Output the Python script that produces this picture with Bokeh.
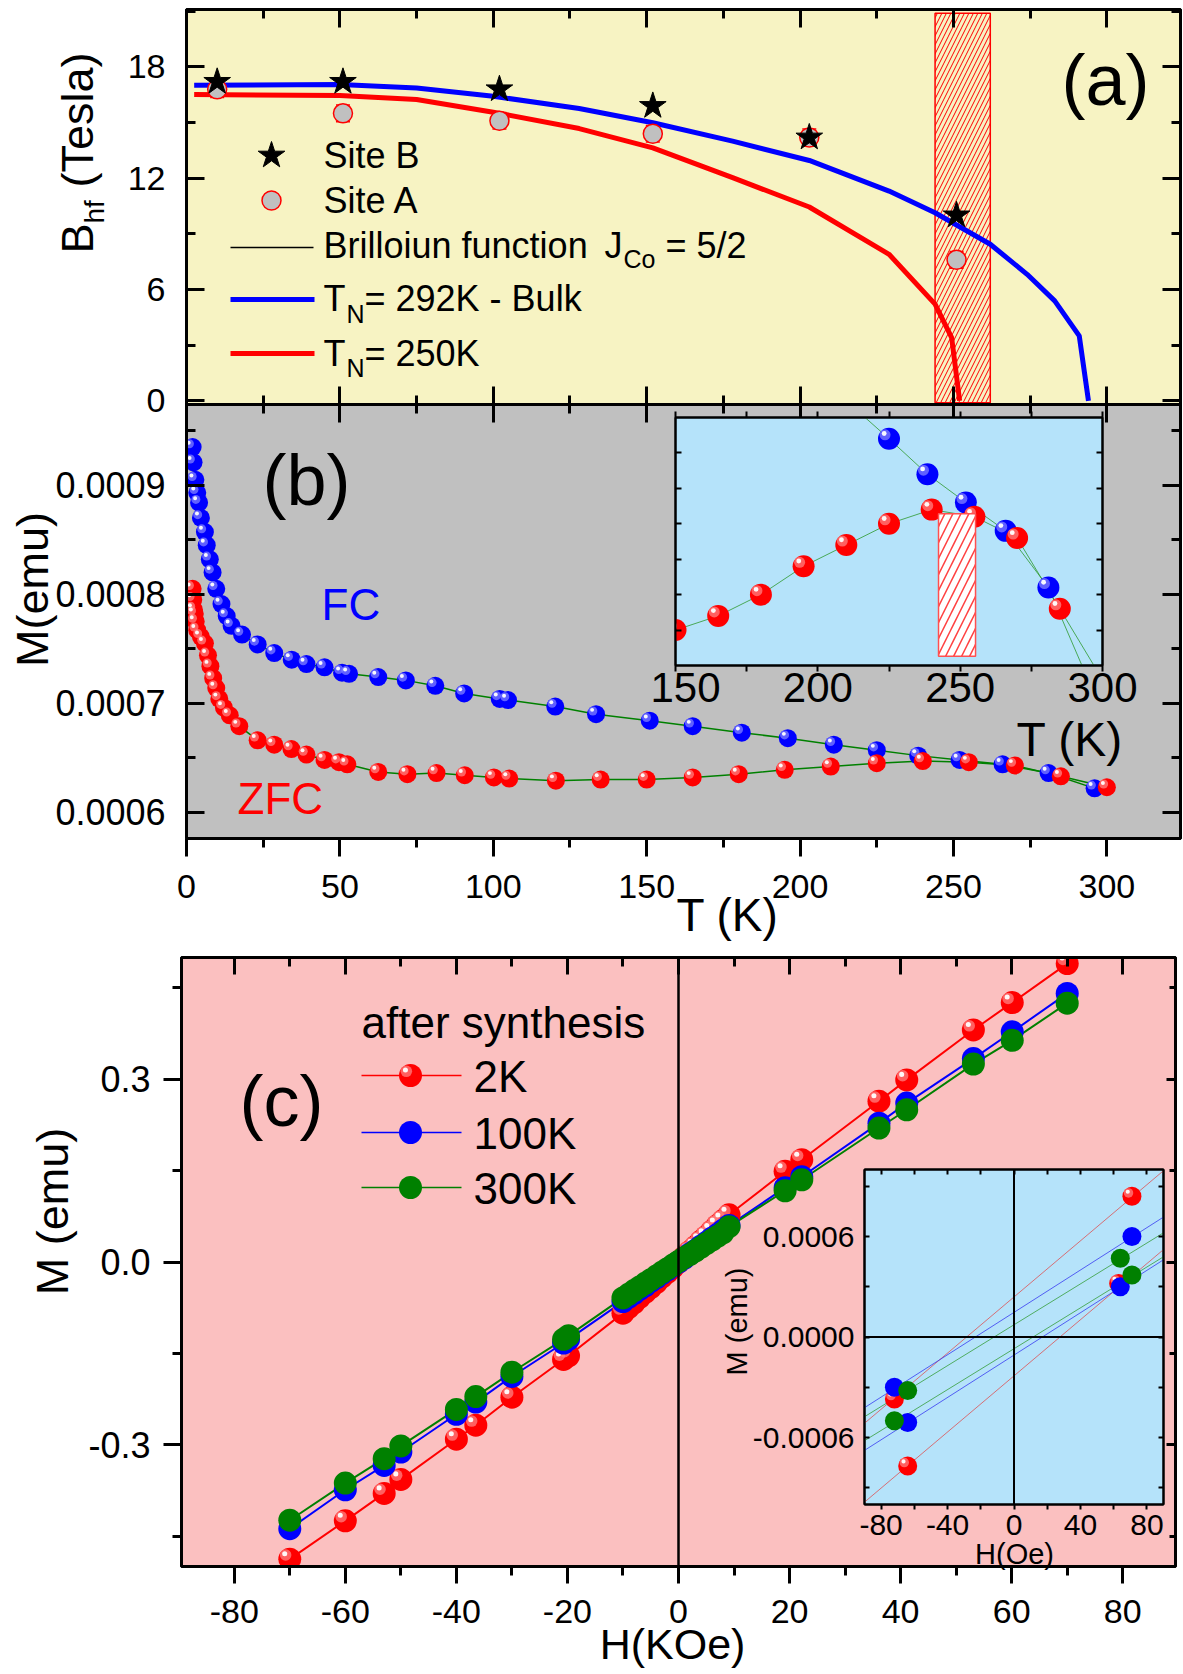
from bokeh.plotting import figure
from bokeh.models import (Range1d, LinearAxis, Label, Whisker, TeeHead, ColumnDataSource,
                          FixedTicker, Span, PrintfTickFormatter)
from bokeh.embed import file_html
from bokeh.resources import INLINE

FONT = "Liberation Sans"
RED, BLUE, GREEN = "#FF0000", "#0000FF", "#008000"

# ---------------- (a) hyperfine field data ----------------
T_site = [10, 51, 102, 152, 203, 251]
B_siteB = [17.2, 17.2, 16.8, 15.9, 14.2, 10.0]
B_siteA = [16.8, 15.5, 15.1, 14.4, 14.2, 7.6]
B_siteA_err = [0.45, 0.45, 0.45, 0.45, 0.45, 0.45]
T_fit_bulk = [2.5, 50, 75, 100, 128, 152, 178, 203, 229, 244, 262, 274, 283, 291, 294]
B_fit_bulk = [17.02, 17.05, 16.87, 16.42, 15.76, 14.99, 14.0, 12.96, 11.31, 10.14, 8.44, 6.82, 5.39, 3.5, 0.0]
T_fit_250 = [2.5, 50, 75, 100, 128, 152, 178, 203, 229, 244, 249.4, 252]
B_fit_250 = [16.52, 16.46, 16.25, 15.56, 14.68, 13.64, 12.03, 10.45, 7.9, 5.21, 3.41, 0.0]
TN_band = [244, 262]
TN_band_B = [-0.1, 20.9]

# ---------------- (b) M(T) data ----------------
T_FC = [2.0, 2.3, 2.9, 3.5, 4.1, 4.7, 6.0, 6.6, 7.6, 8.5, 9.7, 11.4, 13.1, 14.7, 18.1, 23.2, 28.6, 34.3,
        39.1, 45.0, 50.7, 53.0, 62.5, 71.5, 81.1, 90.5, 102.1, 104.8, 120.2, 133.5, 151, 165, 181, 196,
        211, 225, 238.5, 252, 266, 281, 296]
M_FC = [0.000935, 0.000921, 0.000905, 0.000893, 0.000884, 0.00087, 0.000857, 0.000845, 0.000832, 0.00082,
        0.000805, 0.000791, 0.00078, 0.000771, 0.000763, 0.000754, 0.000746, 0.00074, 0.000736, 0.000733,
        0.000728, 0.000727, 0.000724, 0.000721, 0.000716, 0.000709, 0.000704, 0.000703, 0.000697, 0.00069,
        0.000684, 0.000679, 0.000673, 0.000668, 0.000662, 0.000657, 0.000652, 0.000648, 0.000644, 0.000636,
        0.000622]
T_ZFC = [2.0, 2.2, 2.4, 2.7, 3.0, 3.5, 4.7, 6.0, 7.0, 7.8, 8.7, 9.7, 10.7, 12.2, 14.1, 17.2, 23.2, 28.6,
         34.2, 39.1, 45.0, 49.7, 52.4, 62.5, 72.0, 81.5, 90.7, 100.2, 105.2, 120.4, 135, 150, 165, 180,
         195, 210, 225, 240, 255, 270, 285, 300]
M_ZFC = [0.000805, 0.000795, 0.000786, 0.000782, 0.000775, 0.000767, 0.000761, 0.000755, 0.000744, 0.000734,
         0.000723, 0.000714, 0.000704, 0.000696, 0.000689, 0.000679, 0.000666, 0.000662, 0.000658, 0.000653,
         0.000648, 0.000646, 0.000644, 0.000637, 0.000635, 0.000636, 0.000634, 0.000632, 0.000631, 0.000629,
         0.00063, 0.00063, 0.000632, 0.000635, 0.000639, 0.000642, 0.000645, 0.000647, 0.000646, 0.000643,
         0.000633, 0.000623]
inset_T_band = [242.4, 255.4]
inset_M_band = [0.0006263, 0.0006464]

# ---------------- (c) M(H) data ----------------
H_2K = [-70, -60, -53, -50, -40, -36.5, -30, -20.7, -19.8, -10, -9, -8, -7, -6, -5, -4, -3, -2, -1, 0,
        1, 2, 3, 4, 5, 6, 7, 8, 9.1, 19.2, 22.2, 36.1, 41.1, 53.1, 60.1, 70]
M_2K = [-0.488, -0.425, -0.380, -0.357, -0.291, -0.268, -0.222, -0.160, -0.154, -0.084, -0.075, -0.067,
        -0.058, -0.050, -0.042, -0.034, -0.025, -0.017, -0.009, 0.0, 0.008, 0.017, 0.025, 0.034, 0.042,
        0.051, 0.060, 0.068, 0.0775, 0.149, 0.168, 0.264, 0.299, 0.381, 0.426, 0.490]
H_100K = [-70, -60, -53, -50, -40, -36.5, -30, -20.7, -19.8, -10, -9, -8, -7, -6, -5, -4, -3, -2, -1, 0,
          1, 2, 3, 4, 5, 6, 7, 8, 9.1, 19.2, 22.2, 36.1, 41.1, 53.1, 60.1, 70]
M_100K = [-0.438, -0.374, -0.334, -0.312, -0.250, -0.230, -0.188, -0.133, -0.127, -0.065, -0.058, -0.052,
          -0.045, -0.039, -0.032, -0.026, -0.019, -0.013, -0.006, 0.0, 0.006, 0.013, 0.019, 0.026, 0.032,
          0.039, 0.045, 0.052, 0.060, 0.122, 0.140, 0.228, 0.261, 0.334, 0.378, 0.441]
H_300K = [-70, -60, -53, -50, -40, -36.5, -30, -20.7, -19.8, -10, -9, -8, -7, -6, -5, -4, -3, -2, -1, 0,
          1, 2, 3, 4, 5, 6, 7, 8, 9.1, 19.2, 22.2, 36.1, 41.1, 53.1, 60.1, 70]
M_300K = [-0.424, -0.363, -0.323, -0.302, -0.242, -0.221, -0.181, -0.127, -0.121, -0.059, -0.053, -0.047,
          -0.041, -0.035, -0.029, -0.023, -0.017, -0.011, -0.005, 0.001, 0.007, 0.012, 0.018, 0.024, 0.030,
          0.036, 0.042, 0.048, 0.058, 0.117, 0.135, 0.220, 0.250, 0.325, 0.364, 0.425]

# inset (c): low-field points (Oe) and branch lines
Hin_2K = [71, 63, -72, -64]
Min_2K = [0.00084, 0.00032, -0.00037, -0.00077]
Hin_100K = [71, 64, -72, -64]
Min_100K = [0.0006, 0.0003, -0.0003, -0.00051]
Hin_300K = [64, 71, -64, -72]
Min_300K = [0.00047, 0.00037, -0.00032, -0.0005]
Hin_line = [-90, 90]
Lin_2K_up = [-0.000515, 0.000993]
Lin_2K_dn = [-0.000986, 0.000522]
Lin_100K_up = [-0.000422, 0.000716]
Lin_100K_dn = [-0.000677, 0.000461]
Lin_300K_up = [-0.000476, 0.000622]
Lin_300K_dn = [-0.000619, 0.000479]

# ---------------- layout helpers (page px) ----------------


def make_fig(box, frame, xr, yr, bg, border_alpha=1.0, outline_w=3, z=1):
    bl, bt, bw, bh = box
    fl, ft, fr, fb = frame
    p = figure(width=bw, height=bh, x_range=Range1d(*xr), y_range=Range1d(*yr),
               output_backend="svg", toolbar_location=None,
               x_axis_location=None, y_axis_location=None,
               min_border_left=fl - bl, min_border_top=ft - bt,
               min_border_right=(bl + bw) - fr, min_border_bottom=(bt + bh) - fb)
    p.grid.visible = False
    p.background_fill_color = bg
    p.border_fill_color = "white"
    p.border_fill_alpha = border_alpha
    p.outline_line_color = "black"
    p.outline_line_width = outline_w
    p.styles = {"position": "absolute", "left": f"{bl}px", "top": f"{bt}px", "z-index": str(z)}
    return p


def mapper(frame, xr, yr):
    fl, ft, fr, fb = frame
    X = lambda px: xr[0] + (px - fl) / (fr - fl) * (xr[1] - xr[0])
    Y = lambda py: yr[1] - (py - ft) / (fb - ft) * (yr[1] - yr[0])
    kx = (fr - fl) / (xr[1] - xr[0])
    ky = (fb - ft) / (yr[1] - yr[0])
    return X, Y, kx, ky


def add_axis(p, side, ticks, minor, fmt="%d", size=34, tin=0, tout=0,
             min_in=0, min_out=0, standoff=10, lw=3):
    ax = LinearAxis(ticker=FixedTicker(ticks=ticks, minor_ticks=minor))
    ax.formatter = PrintfTickFormatter(format=fmt)
    ax.axis_line_width = lw
    ax.axis_line_color = "black"
    ax.major_tick_line_width = lw
    ax.minor_tick_line_width = lw
    ax.major_tick_line_color = "black"
    ax.minor_tick_line_color = "black"
    ax.major_tick_in = tin
    ax.major_tick_out = tout
    ax.minor_tick_in = min_in
    ax.minor_tick_out = min_out
    ax.major_label_text_font = FONT
    ax.major_label_text_color = "black"
    ax.major_label_text_font_size = f"{size}px"
    ax.major_label_standoff = standoff
    p.add_layout(ax, side)
    return ax


def add_ticks(p, side, groups, lw=3):
    """Unlabelled frame ticks; groups = list of (tick positions, length, inward)."""
    first = True
    for ticks, length, inward in groups:
        ax = LinearAxis(ticker=FixedTicker(ticks=[], minor_ticks=ticks))
        ax.axis_line_color = "black" if first else None
        ax.axis_line_width = lw
        ax.major_tick_line_color = None
        ax.minor_tick_line_color = "black"
        ax.minor_tick_line_width = lw
        ax.minor_tick_in = length if inward else 0
        ax.minor_tick_out = 0 if inward else length
        ax.major_label_standoff = 0
        p.add_layout(ax, side)
        first = False


def balls(p, xs, ys, color, hl, d, kx, ky, plain=False):
    p.scatter(xs, ys, size=d, marker="circle", fill_color=color, line_color=None)
    if plain:
        return
    dx, dy = -0.18 * d / kx, 0.18 * d / ky
    p.scatter([x + dx for x in xs], [y + dy for y in ys], size=0.5 * d, marker="circle",
              fill_color=hl, fill_alpha=0.75, line_color=None)
    dx2, dy2 = -0.22 * d / kx, 0.24 * d / ky
    p.scatter([x + dx2 for x in xs], [y + dy2 for y in ys], size=0.22 * d, marker="circle",
              fill_color="white", fill_alpha=0.95, line_color=None)


HALF_PI = 1.5707963267948966
T_ticks = [0, 50, 100, 150, 200, 250, 300]
T_minor = [25, 75, 125, 175, 225, 275, 325]

# ================= panel (a) =================
A_box, A_frame = (0, 0, 1183, 425), (186, 9, 1180, 404)
A_xr, A_yr = (0, 324), (-0.2, 21.1)
pa = make_fig(A_box, A_frame, A_xr, A_yr, "#F7F3C3", border_alpha=0.0, z=2)
XA, YA, kxa, kya = mapper(A_frame, A_xr, A_yr)
add_axis(pa, "left", [0, 6, 12, 18], [3, 9, 15, 21], fmt="%d", tin=18, min_in=9, standoff=21)
add_ticks(pa, "right", [([0, 6, 12, 18], 18, True), ([3, 9, 15, 21], 9, True)])
add_ticks(pa, "below", [(T_ticks, 18, True), (T_minor, 9, True)])
add_ticks(pa, "above", [(T_ticks, 18, True), (T_minor, 9, True)])

pa.quad(left=[TN_band[0]], right=[TN_band[1]], bottom=[TN_band_B[0]], top=[TN_band_B[1]],
        fill_alpha=0, hatch_pattern="/", hatch_color=RED, hatch_scale=9, hatch_weight=1,
        line_color=RED, line_width=1.5)
pa.line(T_fit_bulk, B_fit_bulk, line_color=BLUE, line_width=5)
pa.line(T_fit_250, B_fit_250, line_color=RED, line_width=5)
srcA = ColumnDataSource(dict(x=T_site, up=[b + e for b, e in zip(B_siteA, B_siteA_err)],
                             lo=[b - e for b, e in zip(B_siteA, B_siteA_err)]))
pa.add_layout(Whisker(base="x", upper="up", lower="lo", source=srcA, level="underlay",
                      line_color=RED, line_width=1.5,
                      upper_head=TeeHead(size=14, line_color=RED, line_width=1.5),
                      lower_head=TeeHead(size=14, line_color=RED, line_width=1.5)))
pa.scatter(T_site, B_siteA, marker="circle", size=19, fill_color="#C0C0C0", line_color=RED, line_width=1.5)
pa.scatter(T_site, B_siteB, marker="star", size=28, fill_color="black", line_color="black")

# legend symbols (a)
pa.scatter([XA(271)], [YA(155)], marker="star", size=28, fill_color="black", line_color="black")
pa.scatter([XA(271)], [YA(200)], marker="circle", size=19, fill_color="#C0C0C0", line_color=RED, line_width=1.5)
pa.line([XA(230), XA(313)], [YA(247), YA(247)], line_color="black", line_width=1.5)
pa.line([XA(230), XA(314)], [YA(299), YA(299)], line_color=BLUE, line_width=5)
pa.line([XA(230), XA(314)], [YA(353), YA(353)], line_color=RED, line_width=5)

# ================= panel (b) =================
B_box, B_frame = (0, 404, 1183, 540), (186, 404, 1180, 838)
B_xr, B_yr = (0, 324), (0.000576, 0.000974)
pb = make_fig(B_box, B_frame, B_xr, B_yr, "#C0C0C0", z=1)
XB, YB, kxb, kyb = mapper(B_frame, B_xr, B_yr)
M_ticks = [0.0006, 0.0007, 0.0008, 0.0009]
M_minor = [0.00065, 0.00075, 0.00085, 0.00095]
add_axis(pb, "left", M_ticks, M_minor, fmt="%.4f", size=36, tin=18, min_in=9, standoff=21)
add_ticks(pb, "right", [(M_ticks, 18, True), (M_minor, 9, True)])
add_axis(pb, "below", T_ticks, T_minor, fmt="%d", tout=18, min_out=9, standoff=18)
add_ticks(pb, "above", [(T_ticks, 18, True), (T_minor, 9, True)])

pb.line(T_FC, M_FC, line_color=GREEN, line_width=1.5)
pb.line(T_ZFC, M_ZFC, line_color=GREEN, line_width=1.5)
balls(pb, T_FC, M_FC, BLUE, "#8080FF", 18, kxb, kyb)
balls(pb, T_ZFC, M_ZFC, RED, "#FF8080", 18, kxb, kyb)

# ================= inset (b) =================
IB_box, IB_frame = (650, 405, 500, 380), (675, 417, 1102, 665)
IB_xr, IB_yr = (150, 300), (0.000625, 0.00066)
pib = make_fig(IB_box, IB_frame, IB_xr, IB_yr, "#B5E3FA", border_alpha=0.0, outline_w=2, z=5)
XIB, YIB, kxib, kyib = mapper(IB_frame, IB_xr, IB_yr)
add_axis(pib, "below", [150, 200, 250, 300], [175, 225, 275], fmt="%d", size=42, tout=6, min_out=6,
         standoff=1, lw=2)
add_ticks(pib, "above", [([150, 175, 200, 225, 250, 275, 300], 6, False)], lw=2)
add_ticks(pib, "left", [([0.00063, 0.000635, 0.00064, 0.000645, 0.00065, 0.000655], 6, True)], lw=2)
add_ticks(pib, "right", [([0.00063, 0.000635, 0.00064, 0.000645, 0.00065, 0.000655], 6, True)], lw=2)
pib.line(T_FC, M_FC, line_color="#2E9A2E", line_width=1, line_alpha=0.8)
pib.line(T_ZFC, M_ZFC, line_color="#2E9A2E", line_width=1, line_alpha=0.8)
balls(pib, T_FC, M_FC, BLUE, "#8080FF", 22, kxib, kyib)
balls(pib, T_ZFC, M_ZFC, RED, "#FF8080", 22, kxib, kyib)
pib.quad(left=[inset_T_band[0]], right=[inset_T_band[1]], bottom=[inset_M_band[0]], top=[inset_M_band[1]],
         fill_color="white", hatch_pattern="/", hatch_color="#FF4040", hatch_scale=16, hatch_weight=1.5,
         line_color="#FF5050", line_width=1.5)

# ================= panel (c) =================
C_box, C_frame = (0, 944, 1183, 728), (181, 957, 1175, 1566)
C_xr, C_yr = (-89.5, 89.5), (-0.5, 0.5)
pc = make_fig(C_box, C_frame, C_xr, C_yr, "#FBC0C0", z=1)
XC, YC, kxc, kyc = mapper(C_frame, C_xr, C_yr)
H_ticks = [-80, -60, -40, -20, 0, 20, 40, 60, 80]
H_minor = [-90, -70, -50, -30, -10, 10, 30, 50, 70, 90]
Mc_ticks = [-0.3, 0.0, 0.3]
Mc_minor = [-0.45, -0.15, 0.15, 0.45]
add_axis(pc, "left", Mc_ticks, Mc_minor, fmt="%.1f", size=36, tout=18, min_out=9, standoff=13)
add_ticks(pc, "right", [(Mc_ticks, 9, True), (Mc_minor, 6, True)])
add_axis(pc, "below", H_ticks, H_minor, fmt="%d", tout=17, min_out=9, standoff=16)
add_ticks(pc, "above", [(H_ticks, 17, True), (H_minor, 9, True)])
pc.add_layout(Span(location=0, dimension="height", line_color="black", line_width=2.5))

pc.line(H_2K, M_2K, line_color=RED, line_width=2)
pc.line(H_100K, M_100K, line_color=BLUE, line_width=2)
pc.line(H_300K, M_300K, line_color=GREEN, line_width=2)
balls(pc, H_2K, M_2K, RED, "#FF8080", 23, kxc, kyc)
balls(pc, H_100K, M_100K, BLUE, None, 23, kxc, kyc, plain=True)
balls(pc, H_300K, M_300K, GREEN, None, 23, kxc, kyc, plain=True)

# legend symbols (c)
LEG_C = [(1075, RED, "2K"), (1132, BLUE, "100K"), (1187, GREEN, "300K")]
for yy, col, lab in LEG_C:
    pc.line([XC(361), XC(461)], [YC(yy), YC(yy)], line_color=col, line_width=1.5)
    balls(pc, [XC(410)], [YC(yy)], col, "#FF8080", 23, kxc, kyc, plain=(col != RED))

# ================= inset (c) =================
IC_box, IC_frame = (705, 1155, 470, 420), (864, 1169, 1163, 1504)
IC_xr, IC_yr = (-90, 90), (-0.001, 0.001)
pic = make_fig(IC_box, IC_frame, IC_xr, IC_yr, "#B5E3FA", border_alpha=0.0, outline_w=2, z=5)
XIC, YIC, kxic, kyic = mapper(IC_frame, IC_xr, IC_yr)
add_axis(pic, "below", [-80, -40, 0, 40, 80], [-60, -20, 20, 60], fmt="%d", size=30, tout=5, min_out=5,
         standoff=5, lw=2)
add_ticks(pic, "above", [([-80, -60, -40, -20, 0, 20, 40, 60, 80], 5, True)], lw=2)
add_axis(pic, "left", [-0.0006, 0.0, 0.0006], [-0.0009, -0.0003, 0.0003, 0.0009], fmt="%.4f", size=30,
         tin=5, min_in=5, standoff=10, lw=2)
add_ticks(pic, "right", [([-0.0009, -0.0006, -0.0003, 0.0, 0.0003, 0.0006, 0.0009], 5, True)], lw=2)
pic.add_layout(Span(location=0, dimension="height", line_color="black", line_width=2))
pic.add_layout(Span(location=0, dimension="width", line_color="black", line_width=2))
for ys, col in [(Lin_2K_up, "#E04848"), (Lin_2K_dn, "#E04848"), (Lin_100K_up, "#3030F0"),
                (Lin_100K_dn, "#3030F0"), (Lin_300K_up, "#2E9A2E"), (Lin_300K_dn, "#2E9A2E")]:
    pic.line(Hin_line, ys, line_color=col, line_width=1, line_alpha=0.75)
balls(pic, Hin_2K, Min_2K, RED, "#FF8080", 19, kxic, kyic)
balls(pic, Hin_100K, Min_100K, BLUE, None, 19, kxic, kyic, plain=True)
balls(pic, Hin_300K, Min_300K, GREEN, None, 19, kxic, kyic, plain=True)

# ================= text layer (page px) =================
po = figure(width=1180, height=1672, x_range=Range1d(0, 1180), y_range=Range1d(1672, 0),
            output_backend="svg", toolbar_location=None, x_axis_location=None, y_axis_location=None,
            min_border_left=0, min_border_right=0, min_border_top=0, min_border_bottom=0)
po.grid.visible = False
po.outline_line_color = None
po.background_fill_alpha = 0.0
po.border_fill_alpha = 0.0
po.styles = {"position": "absolute", "left": "0px", "top": "0px", "z-index": "10", "pointer-events": "none"}


def t(x, y, text, size, color="black", align="left", angle=0.0):
    # (x, y) is the intended baseline anchor in page px; compensate the renderer's baseline offset
    if angle == 0.0:
        y = y - 0.33 * size
    else:
        x = x - 0.33 * size
    po.add_layout(Label(x=x, y=y, text=text, text_font=FONT, text_font_size=f"{size}px",
                        text_color=color, text_align=align, text_baseline="alphabetic", angle=angle))


# (a)
t(323, 167, "Site B", 36)
t(323, 212, "Site A", 36)
t(323, 257, "Brilloiun function", 36)
t(604, 257, "J", 36)
t(623, 267, "Co", 25)
t(665, 257, "= 5/2", 36)
t(323, 310, "T", 36)
t(346, 322, "N", 25)
t(364, 310, "= 292K - Bulk", 36)
t(323, 365, "T", 36)
t(346, 376, "N", 25)
t(364, 365, "= 250K", 36)
t(1061, 103, "(a)", 72)
t(92, 253, "B", 45, angle=HALF_PI)
t(103, 223, "hf", 28, angle=HALF_PI)
t(92, 187, "(Tesla)", 45, angle=HALF_PI)
# (b)
t(262, 503, "(b)", 72)
t(321, 619, "FC", 44, color=BLUE)
t(237, 813, "ZFC", 44, color=RED)
t(47, 589, "M(emu)", 45, align="center", angle=HALF_PI)
t(676, 930, "T (K)", 46)
t(1016, 755, "T (K)", 48)
# (c)
t(361, 1037, "after synthesis", 44)
for yy, col, lab in LEG_C:
    t(473, yy + 16, lab, 44)
t(239, 1124, "(c)", 72)
t(67, 1211, "M (emu)", 45, align="center", angle=HALF_PI)
t(672, 1658, "H(KOe)", 43, align="center")
t(746, 1321, "M (emu)", 29, align="center", angle=HALF_PI)
t(1014, 1563, "H(Oe)", 29, align="center")

open("out.html", "w").write(file_html([pa, pb, pc, pib, pic, po], INLINE, title="M-H and M-T"))
